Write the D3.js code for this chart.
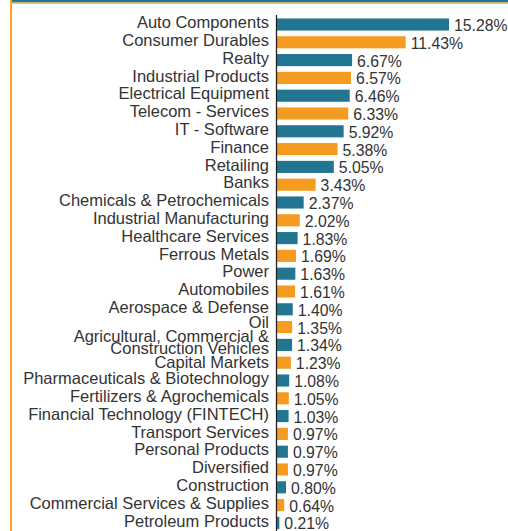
<!DOCTYPE html>
<html>
<head>
<meta charset="utf-8">
<script src="https://cdn.jsdelivr.net/npm/d3@7"></script>
<style>
  body { margin: 0; background: #fff; }
  svg { display: block; font-family: "Liberation Sans", Arial, sans-serif; }
</style>
</head>
<body>
<div id="chart"></div>
<script>
// sector names (top to bottom)
const sectors = [
    "Auto Components", "Consumer Durables", "Realty", "Industrial Products",
    "Electrical Equipment", "Telecom - Services", "IT - Software", "Finance",
    "Retailing", "Banks", "Chemicals & Petrochemicals", "Industrial Manufacturing",
    "Healthcare Services", "Ferrous Metals", "Power", "Automobiles",
    "Aerospace & Defense", "Oil", "Agricultural, Commercial &|Construction Vehicles",
    "Capital Markets", "Pharmaceuticals & Biotechnology", "Fertilizers & Agrochemicals",
    "Financial Technology (FINTECH)", "Transport Services", "Personal Products",
    "Diversified", "Construction", "Commercial Services & Supplies", "Petroleum Products"
];

// weight in %
const weights = [
    15.28, 11.43, 6.67, 6.57, 6.46, 6.33, 5.92, 5.38, 5.05, 3.43, 2.37, 2.02,
    1.83, 1.69, 1.63, 1.61, 1.40, 1.35, 1.34, 1.23, 1.08, 1.05, 1.03, 0.97,
    0.97, 0.97, 0.80, 0.64, 0.21
];

const colors = ["#237692", "#f59c20"];

const width = 508, height = 531;
const data = sectors.map((s, i) => ({ name: s, value: weights[i], i: i }));

const svg = d3.select("#chart").append("svg")
    .attr("width", width)
    .attr("height", height);

// frame pieces (cropped panel border)
svg.append("rect").attr("x", 11).attr("y", 0).attr("width", width - 11).attr("height", 2.5).attr("fill", "#237692");
svg.append("rect").attr("x", 11).attr("y", 2.5).attr("width", width - 11).attr("height", 1.2).attr("fill", "#f5a623");
svg.append("rect").attr("x", 10).attr("y", 0).attr("width", 2).attr("height", height).attr("fill", "#f5a623");

const x0 = 277;
const xScale = d3.scaleLinear()
    .domain([0, 15.28])
    .range([x0, 449]);

const yScale = d3.scaleBand()
    .domain(d3.range(data.length))
    .range([15.6, 15.6 + 17.8 * data.length])
    .paddingInner(0.32)
    .paddingOuter(0.16);

const plot = svg.append("g");

// bars
plot.selectAll("rect.bar")
    .data(data)
    .enter()
    .append("rect")
    .attr("class", "bar")
    .attr("x", xScale(0))
    .attr("y", d => yScale(d.i))
    .attr("width", d => xScale(d.value) - xScale(0))
    .attr("height", yScale.bandwidth())
    .attr("fill", d => colors[d.i % 2]);

// axis line
plot.append("line")
    .attr("x1", x0 - 0.5).attr("x2", x0 - 0.5)
    .attr("y1", 15).attr("y2", height)
    .attr("stroke", "#222")
    .attr("stroke-width", 1.3);

// category labels; neighbours of a wrapped label get pushed away a little
const isMulti = d => d && d.name.includes("|");

const labels = plot.selectAll("text.cat")
    .data(data)
    .enter()
    .append("text")
    .attr("class", "cat")
    .attr("text-anchor", "end")
    .attr("font-size", "16.5px")
    .attr("fill", "#333");

labels.each(function (d) {
    const lines = d.name.split("|");
    let shift = -2;
    if (isMulti(data[d.i + 1])) shift = -5;
    if (isMulti(data[d.i - 1])) shift = 0;
    if (lines.length > 1) shift = -3;
    const cy = yScale(d.i) + yScale.bandwidth() / 2 + shift;
    const lh = 12;
    const t = d3.select(this);
    lines.forEach((ln, k) => {
        t.append("tspan")
            .attr("x", 269)
            .attr("y", cy + (k - (lines.length - 1) / 2) * lh)
            .attr("dy", "0.35em")
            .text(ln);
    });
});

// value labels
plot.selectAll("text.val")
    .data(data)
    .enter()
    .append("text")
    .attr("class", "val")
    .attr("x", d => xScale(d.value) + 5)
    .attr("y", d => yScale(d.i) + yScale.bandwidth() / 2 + 1)
    .attr("dy", "0.35em")
    .attr("font-size", "15.8px")
    .attr("fill", "#333")
    .text(d => d.value.toFixed(2) + "%");
</script>
</body>
</html>
